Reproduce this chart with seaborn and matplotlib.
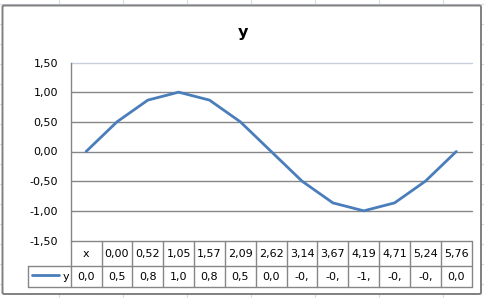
import matplotlib
matplotlib.use("Agg")
import matplotlib.pyplot as plt
import seaborn as sns
import pandas as pd
from matplotlib.lines import Line2D
from matplotlib.patches import FancyBboxPatch

# ---- data ----
categories = ["x", "0,00", "0,52", "1,05", "1,57", "2,09", "2,62",
              "3,14", "3,67", "4,19", "4,71", "5,24", "5,76"]
y_values = [0.0, 0.5, 0.866, 1.0, 0.866, 0.5, 0.0,
            -0.5, -0.866, -1.0, -0.866, -0.5, 0.0]
y_table_labels = ["0,0", "0,5", "0,8", "1,0", "0,8", "0,5", "0,0",
                  "-0,", "-0,", "-1,", "-0,", "-0,", "0,0"]
y_ticks = [-1.5, -1.0, -0.5, 0.0, 0.5, 1.0, 1.5]
y_tick_labels = ["-1,50", "-1,00", "-0,50", "0,00", "0,50", "1,00", "1,50"]
series_name = "y"
title = "y"

df = pd.DataFrame({"cat": categories, "val": y_values})

sns.set_theme(style="white")
plt.rcParams["font.family"] = ["DejaVu Sans"]

W, H = 485, 298
fig = plt.figure(figsize=(W / 100, H / 100), dpi=100)
fig.patch.set_facecolor("white")

def fx(x):
    return x / W

def fy(y):
    return 1 - y / H

LINE_COL = "#4A7EBB"
GRID_COL = "#868686"
SHEET_COL = "#d4dae6"

# spreadsheet gridlines behind the chart
for gx in [59, 123, 187, 251, 315, 379, 443]:
    fig.add_artist(Line2D([fx(gx), fx(gx)], [0, 1], color=SHEET_COL, lw=0.8, zorder=0))
for gy in range(4, 298, 20):
    fig.add_artist(Line2D([0, 1], [fy(gy), fy(gy)], color=SHEET_COL, lw=0.8, zorder=0))

# chart area
fig.add_artist(FancyBboxPatch((fx(2.5), fy(294)), fx(481) - fx(2.5), fy(5.5) - fy(294),
                              boxstyle="round,pad=0,rounding_size=0.004",
                              facecolor="white", edgecolor="#808080", lw=1.4, zorder=1))

# plot area
L, R, T, B = 70.7, 471.7, 62.5, 240.5
ax = fig.add_axes([fx(L), fy(B), fx(R) - fx(L), fy(T) - fy(B)])
ax.set_zorder(2)
ax.patch.set_alpha(0)

sns.lineplot(data=df, x="cat", y="val", ax=ax, color=LINE_COL, lw=2.0,
             sort=False, legend=False)
ax.set_xlim(-0.5, len(categories) - 0.5)
ax.set_ylim(-1.5, 1.5)
ax.set_yticks(y_ticks)
ax.set_yticklabels(y_tick_labels, fontsize=8, color="#000000")
ax.set_xticks([])
ax.set_xlabel("")
ax.set_ylabel("")
ax.tick_params(axis="y", length=0, pad=9)
for s in ["top", "right", "bottom"]:
    ax.spines[s].set_visible(False)
ax.spines["left"].set_color(GRID_COL)
ax.spines["left"].set_linewidth(1.0)
for t in y_ticks:
    col = "#c8d0dc" if t == 1.5 else GRID_COL
    ax.axhline(t, color=col, lw=1.0, zorder=0, clip_on=False)

# data table
TL, TR, TT, TM, TB = 28.3, R, B, 266.0, 287.0
colw = (R - L) / len(categories)
tax = fig.add_axes([fx(TL), fy(TB), fx(TR) - fx(TL), fy(TT) - fy(TB)])
tax.set_zorder(2)
tax.set_xlim(TL, TR)
tax.set_ylim(TB, TT)
tax.axis("off")
tc = dict(color=GRID_COL, lw=1.0, clip_on=False)
tax.plot([TL, R], [TM, TM], **tc)
tax.plot([TL, R], [TB, TB], **tc)
tax.plot([TL, TL], [TM, TB], **tc)
for i in range(len(categories) + 1):
    xx = L + i * colw
    tax.plot([xx, xx], [TT, TB], **tc)
for i, (c, v) in enumerate(zip(categories, y_table_labels)):
    cx = L + (i + 0.5) * colw
    tax.text(cx, (TT + TM) / 2 + 0.5, c, ha="center", va="center", fontsize=8, color="#000000")
    tax.text(cx, (TM + TB) / 2 + 0.5, v, ha="center", va="center", fontsize=8, color="#000000")
tax.plot([32, 59], [275, 275], color=LINE_COL, lw=2.0)
tax.text(69, 276.5, series_name, ha="right", va="center", fontsize=8, color="#000000")

fig.text(fx(243), fy(33), title, ha="center", va="center", fontsize=11.5,
         fontweight="bold", color="#000000", zorder=3)

fig.savefig("out.png", dpi=100)
